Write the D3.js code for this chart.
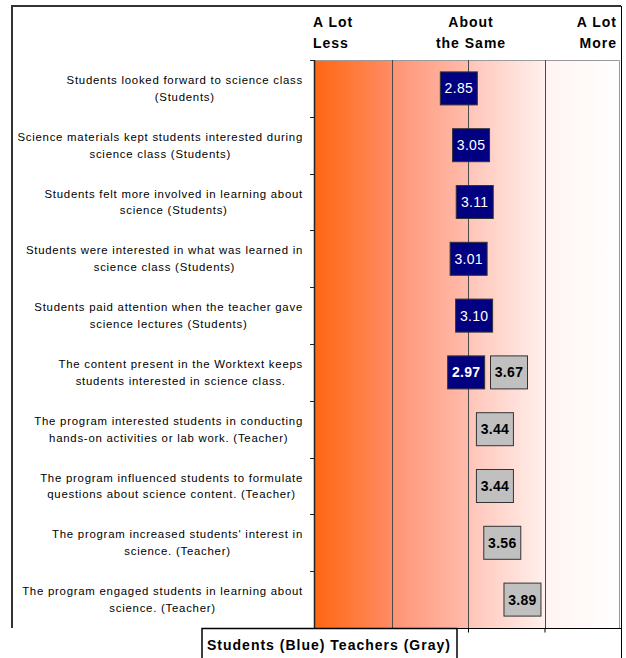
<!DOCTYPE html>
<html>
<head>
<meta charset="utf-8">
<script src="https://cdn.jsdelivr.net/npm/d3@7/dist/d3.min.js"></script>
<style>
  html, body { margin: 0; padding: 0; background: #fff; }
  svg { display: block; }
  text { font-family: "Liberation Sans", Arial, sans-serif; }
</style>
</head>
<body>
<svg id="chart" width="626" height="658"></svg>
<script>
// Survey items, one per row (line breaks mark the wrapped label lines)
const categories = [
  "Students looked forward to science class\n(Students)",
  "Science materials kept students interested during\nscience class (Students)",
  "Students felt more involved in learning about\nscience (Students)",
  "Students were interested in what was learned in\nscience class (Students)",
  "Students paid attention when the teacher gave\nscience lectures (Students)",
  "The content present in the Worktext keeps\nstudents interested in science class.",
  "The program interested students in conducting\nhands-on activities or lab work. (Teacher)",
  "The program influenced students to formulate\nquestions about science content. (Teacher)",
  "The program increased students' interest in\nscience. (Teacher)",
  "The program engaged students in learning about\nscience. (Teacher)"
];

// Mean ratings (null where a group was not asked)
const studentScores = [2.85, 3.05, 3.11, 3.01, 3.10, 2.97, null, null, null, null];
const teacherScores = [null, null, null, null, null, 3.67, 3.44, 3.44, 3.56, 3.89];

// Rating scale and its anchor labels
const scaleDomain = [0.5, 5.5];
const scaleLabels = [["A Lot", "Less"], ["About", "the Same"], ["A Lot", "More"]];
const legendText = "Students (Blue) Teachers (Gray)";

const svg = d3.select("#chart");
const plot = { left: 315, right: 621, top: 60, bottom: 628 };

const x = d3.scaleLinear().domain(scaleDomain).range([plot.left, plot.right]);
const y = d3.scaleBand().domain(d3.range(categories.length)).range([plot.top, plot.bottom]);

// Quarter divisions of the scale
const quarters = d3.range(0, 5).map(i => scaleDomain[0] + i * (scaleDomain[1] - scaleDomain[0]) / 4);

// Background gradient: strong orange on the "less" side fading to white
const defs = svg.append("defs");
const grad = defs.append("linearGradient").attr("id", "bg").attr("x1", "0").attr("x2", "1").attr("y1", "0").attr("y2", "0");
[
  [0, "#ff6712"], [0.25, "#ff8c64"], [0.26, "#ff9476"], [0.5, "#ffbcab"],
  [0.51, "#ffc6ba"], [0.75, "#fff0ec"], [0.76, "#fff4f2"], [1, "#ffffff"]
].forEach(([o, c]) => grad.append("stop").attr("offset", o).attr("stop-color", c));

svg.append("rect")
  .attr("x", plot.left).attr("y", plot.top)
  .attr("width", plot.right - plot.left).attr("height", plot.bottom - plot.top)
  .attr("fill", "url(#bg)");

// Outer frame
svg.append("path")
  .attr("d", `M12,${plot.bottom} V6 H621`)
  .attr("fill", "none").attr("stroke", "#333").attr("stroke-width", 2);
svg.append("line")
  .attr("x1", 621.5).attr("x2", 621.5).attr("y1", 6).attr("y2", 658)
  .attr("stroke", "#000").attr("stroke-width", 1);

// Plot border (top and right in gray)
svg.append("path")
  .attr("d", `M${plot.left},${plot.top + 0.5} H${plot.right - 1.5} V${plot.bottom}`)
  .attr("fill", "none").attr("stroke", "#9a9a9a").attr("stroke-width", 1);

// Vertical division lines
svg.append("g").selectAll("line")
  .data(quarters.slice(1, 4))
  .join("line")
  .attr("x1", d => Math.round(x(d)) + 0.5).attr("x2", d => Math.round(x(d)) + 0.5)
  .attr("y1", plot.top).attr("y2", plot.bottom)
  .attr("stroke", "#4a4a4a").attr("stroke-width", 1);

// Bottom axis with ticks on the divisions
const xAxis = d3.axisBottom(x).tickValues(quarters.slice(1, 4)).tickSize(4).tickFormat("");
svg.append("g").attr("transform", `translate(0,${plot.bottom + 0.5})`).call(xAxis)
  .call(g => g.select(".domain").remove())
  .call(g => g.selectAll(".tick line").attr("stroke", "#000"));
svg.append("line")
  .attr("x1", 202).attr("x2", 621).attr("y1", plot.bottom + 0.5).attr("y2", plot.bottom + 0.5)
  .attr("stroke", "#000");

// Left axis with ticks between rows
const rowEdges = d3.range(categories.length + 1).map(i => plot.top + i * y.step());
svg.append("line")
  .attr("x1", plot.left - 0.5).attr("x2", plot.left - 0.5)
  .attr("y1", plot.top).attr("y2", plot.bottom)
  .attr("stroke", "#222").attr("stroke-width", 1.5);
svg.append("g").selectAll("line")
  .data(rowEdges.slice(0, -1))
  .join("line")
  .attr("x1", plot.left - 5).attr("x2", plot.left)
  .attr("y1", d => Math.round(d) + 0.5).attr("y2", d => Math.round(d) + 0.5)
  .attr("stroke", "#222");

// Category labels: lines centred on each other, block right-aligned to the axis
const labelRight = 303;
const labelG = svg.append("g");
categories.forEach((c, i) => {
  const lines = c.split("\n");
  const t = labelG.append("text")
    .attr("font-size", 11.4).attr("letter-spacing", 0.75).attr("fill", "#000")
    .attr("text-anchor", "middle");
  const cy = y(i) + y.bandwidth() / 2;
  const lh = 16.7;
  lines.forEach((ln, k) => {
    t.append("tspan").attr("y", cy + (k - (lines.length - 1) / 2) * lh + 4).text(ln);
  });
  let w = 0;
  t.selectAll("tspan").each(function () { w = Math.max(w, this.getComputedTextLength()); });
  t.selectAll("tspan").attr("x", labelRight - w / 2);
});

// Scale anchor labels above the plot
const anchorX = [x(quarters[0]) - 2, x(quarters[2]), x(quarters[4]) - 4];
const anchorAlign = ["start", "middle", "end"];
scaleLabels.forEach((pair, i) => {
  const t = svg.append("text")
    .attr("font-size", 14).attr("font-weight", "bold").attr("letter-spacing", 1)
    .attr("text-anchor", anchorAlign[i]).attr("fill", "#000");
  pair.forEach((s, k) => t.append("tspan").attr("x", anchorX[i] + (i === 1 ? 3 : 0)).attr("y", 27 + k * 21).text(s));
});

// Value boxes
const boxW = 37, boxH = 33;
function drawBoxes(values, fill, textFill, weightFn) {
  const g = svg.append("g");
  const data = values.map((v, i) => ({ v, i })).filter(d => d.v != null);
  const cell = g.selectAll("g").data(data).join("g")
    .attr("transform", d => `translate(${x(d.v)},${y(d.i) + y.bandwidth() / 2})`);
  cell.append("rect")
    .attr("x", -boxW / 2).attr("y", -boxH / 2)
    .attr("width", boxW).attr("height", boxH)
    .attr("fill", fill).attr("stroke", "#333").attr("stroke-width", 1);
  cell.append("text")
    .attr("text-anchor", "middle").attr("dy", "0.36em")
    .attr("font-size", 14).attr("letter-spacing", 0.3)
    .attr("font-weight", weightFn)
    .attr("fill", textFill)
    .text(d => d.v.toFixed(2));
}
drawBoxes(studentScores, "#000080", "#fff", d => teacherScores[d.i] != null ? "bold" : "normal");
drawBoxes(teacherScores, "#c0c0c0", "#000", () => "bold");

// Legend box
svg.append("rect")
  .attr("x", 202).attr("y", plot.bottom + 0.5).attr("width", 255).attr("height", 40)
  .attr("fill", "#fff").attr("stroke", "#000").attr("stroke-width", 1.5);
svg.append("text")
  .attr("x", 207).attr("y", 650)
  .attr("font-size", 14).attr("font-weight", "bold").attr("letter-spacing", 1)
  .attr("fill", "#000")
  .text(legendText);
</script>
</body>
</html>
